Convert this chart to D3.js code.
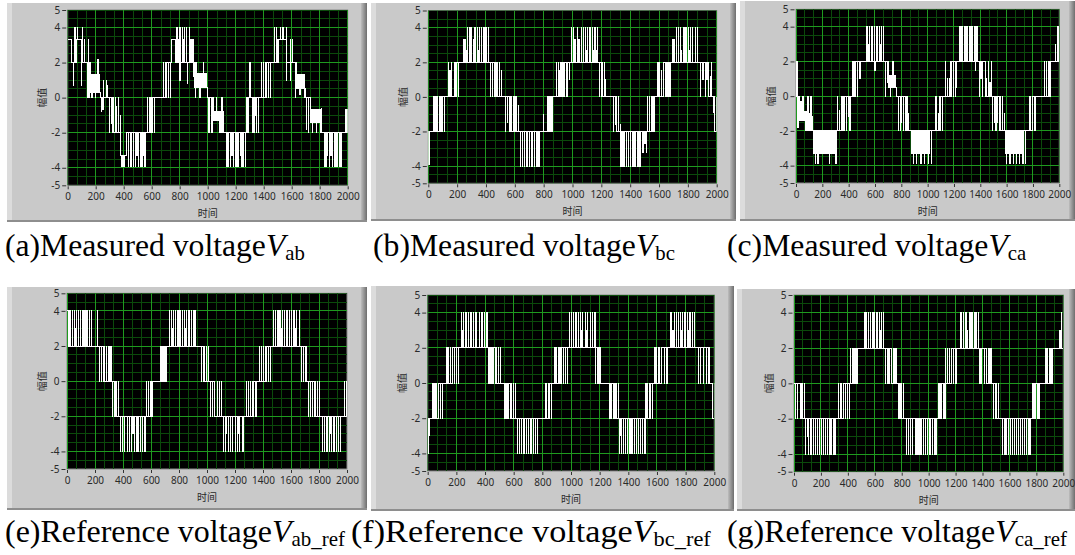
<!DOCTYPE html>
<html>
<head>
<meta charset="utf-8">
<script src="https://cdn.jsdelivr.net/npm/d3@7"></script>
<style>
  body { margin: 0; background: #fff; }
  svg { display: block; }
</style>
</head>
<body>
<svg id="fig" width="1075" height="555"></svg>
<script>
// ---- tick labels ----
const xTicks = [0, 200, 400, 600, 800, 1000, 1200, 1400, 1600, 1800, 2000];
const yTicks = [-5, -4, -2, 0, 2, 4, 5];
const yMajor = [-4, -2, 0, 2, 4];

// ---- waveforms: base staircase [start, level], pulses [time, level, width?] ----
const abMeasBase = [[0,2],[165,0.3],[231,0],[326,-2],[593,0],[707,2],[920,0.6],[995,0],[1040,-0.8],[1095,-2],[1290,0],[1410,2],[1636,0.5],[1700,0],[1731,-0.7],[1805,-2]];
const abMeasPulse = [
  [0,3.3,28],[40,0.7,3],[52,4],[64,3.3,40],[69,4,3],[95,0.7,3],[105,4,3],[120,3.3],[148,3.3],
  [140,0],[152,0],
  [168,1.3,5],[172,0,3],[176,1.3,5],[183,1.3,5],[190,1.3,6],[195,0,3],[198,1.3,5],[206,1.3,5],[214,2.2,3],[220,1.3,5],[226,1.3,4],
  [238,-0.8,3],[250,-0.7,3],[255,1,3],[274,1,3],[283,0.7,3],[295,-2],[310,-1.5],[318,-2],
  [338,0],[350,-0.5],[362,0,3],[374,-1,3],
  [379,-3.3,38],[385,-3.9,3],[400,-3.9,3],[433,-3.9],[445,-3.9],[457,-3.9],[469,-3.9],[481,-3.9],[493,-3.3],[505,-3.9],[517,-3.9],[529,-3.9],[541,-3.3],[552,-3.9],
  [571,0],[583,0],[597,-2],[605,-2],[617,-2,3],
  [683,2],[695,2],[719,0],[731,0],
  [743,3.3,24],[779,4],[790,3.3],[795,4],[800,1,3],[807,4],[819,4],[826,3.3],[833,4],[850,4],[855,0.8,3],[867,4],[880,3.3],[893,3.3],
  [898,1.2,3],[905,0.6,3],[912,0,3],
  [924,1.4,4],[931,1.4,4],[938,1.4,4],[944,0,3],[950,1.4,4],[957,1.4,4],[964,1.4,4],[970,2,3],[976,1.4,4],[983,1.4,4],[989,1.4,3],
  [1005,-2,3],[1012,-2],[1024,-1.5],[1030,-2,3],
  [1044,-1.3,4],[1050,-1.3,4],[1056,-1.3,4],[1062,0,3],[1068,-1.3,4],[1074,-1.3,4],[1080,-1.3,4],[1086,-2,3],
  [1100,0,3],[1112,-0.8,3],
  [1136,-3.9],[1148,-3.9],[1160,-3.9],[1172,-3.3],[1184,-3.9],[1196,-3.9],[1208,-3.9],[1220,-3.9],[1232,-3.3],[1244,-3.9],[1256,-3.9],[1267,-3.9],
  [1274,0],[1283,0],
  [1302,2],[1319,-2],[1330,-2],[1340,-1],[1350,-2],[1362,-2],
  [1381,2],[1398,2],[1421,0],[1433,0],[1445,0],
  [1474,4],[1488,4],[1498,3.3],[1505,3.3,59],[1517,4],[1536,4],[1560,1],[1564,4],[1588,3.3],[1592,1],[1607,3.3],
  [1624,0],
  [1638,1.3,4],[1645,1.3,4],[1652,1.3,4],[1658,0.2,3],[1664,1.3,4],[1670,1.3,4],[1677,1.3,4],[1684,1.3,4],[1690,0,3],
  [1707,-1.8],[1719,-2],
  [1734,-1.4,4],[1741,-1.4,4],[1748,-2,3],[1755,-1.4,4],[1762,-1.4,4],[1769,-1.4,4],[1776,-2,3],[1783,-1.4,4],[1790,-1.4,4],[1797,-1.4,4],
  [1812,-0.6],
  [1831,-3.9],[1843,-3.9],[1855,-3.3],[1867,-3.9],[1879,-3.3,6],[1891,-3.9],[1903,-3.9],[1915,-3.9],[1927,-3.9],[1939,-3.9],[1950,-3.9],[1957,-3.9],
  [1981,-0.7],[1993,-0.7]
];

const bcMeasBase = [[0,-2],[76,0],[180,2],[470,0],[580,-2],[840,0],[920,2],[1200,0],[1307,-2],[1545,0],[1630,2],[1940,0]];
const bcMeasPulse = [
  [3,-3.9],[9,-3],
  [39,0],[53,0],[65,0],[88,-2],[99,-2],[111,-2],
  [139,2],[150,1.5],[162,2],[192,0],[208,0],
  [247,3.3],[254,3.3,6],[266,2.7],[271,4],[289,4],[301,4],[312,3.3],[320,4],[328,4],[340,4],[348,2.7],[354,4],[370,4],[386,4],[400,4],[416,4],
  [432,0],[446,0],[462,0],[478,2],[492,2],[509,1.5],
  [536,-2],[550,-1.5],[566,-2],[594,0],[608,0],[624,-0.5],
  [640,-4],[652,-4],[664,-4],[678,-4],[689,-4],[701,-4],[713,-4],[724,-4],[736,-4],[748,-4],[760,-4],[770,-4],
  [800,-1],[828,0],[837,0],[849,-2],[860,-2],
  [890,2],[902,2],[913,1.5],[927,0],[941,0],[960,0],[978,1],
  [994,4],[1006,4],[1017,3.3,6],[1033,4],[1045,3.3,6],[1059,4],[1075,4],[1091,4],[1100,2.7],[1105,4],[1121,4],[1138,4],[1145,2.7],[1156,4],[1165,2.7],[1172,4],
  [1186,0],[1198,0],[1209,2],[1221,2],[1230,1],
  [1283,-2],[1295,-1.6],[1318,0],[1330,-1.6],
  [1336,-4],[1349,-4],[1361,-4],[1372,-4],[1386,-4],[1400,-4],[1414,-4],[1425,-4],[1437,-4],[1448,-4],[1460,-4],[1468,-4],
  [1487,-3.2,6],[1497,-2.7,8],[1510,-3.2],
  [1521,0],[1533,0],[1557,-2],[1568,-2],
  [1591,2],[1602,2],[1614,1.5],[1647,0],[1661,0],[1676,0],
  [1695,3.3,6],[1706,3.3],[1718,4],[1734,4],[1746,4],[1757,2.7],[1773,4],[1787,4],[1803,4],[1810,2.7],[1819,4],[1833,4],[1850,4],[1866,4],
  [1889,0],[1903,1],[1919,0],[1931,1],[1942,2],[1954,1.2],[1965,2],
  [1980,-0.9],[1988,-2,12]
];

const caMeasBase = [[0,0],[28,-0.9],[82,-2],[360,0],[445,2],[703,0.5],[766,0],[840,-2],[1090,0],[1180,2],[1440,0],[1545,-2],[1795,0],[1920,2]];
const caMeasPulse = [
  [5,2,5],[15,-1.8],
  [30,-1.4,4],[36,-0.3,3],[41,-1.4,4],[47,-1.4,4],[53,0,3],[58,-1.4,4],[64,-1.4,4],[70,-2,3],[76,-1.4,4],
  [90,0],[100,-1],[112,0],[120,-1.2],
  [132,-3.3,5],[139,-3.3,5],[146,-3.9],[153,-3.3,5],[160,-3.3,5],[167,-3.9],[174,-3.3,5],[181,-3.3,5],[188,-3.3,5],[195,-3.3,5],[202,-3.3,5],[209,-3.3,5],[216,-3.3,5],[223,-3.3,5],[230,-3.3,5],[237,-3.3,5],[244,-3.3,5],[251,-3.9],[258,-3.3,5],[265,-3.3,5],[272,-3.3,5],[279,-3.3,5],[286,-3.3,4],[302,-3.9],
  [316,0],[329,-0.8],[342,0],[354,0],[367,-2],[385,-2],[397,-1.2],[410,-2],
  [428,2],[440,2],[453,0],[468,0],[485,1],
  [532,4],[544,4],[550,3],[557,4],[570,4],[582,4],[595,4],[600,1.5],[608,4],[620,4],[633,4],[640,3],[651,4],[663,4],
  [681,0],[696,0.8],
  [706,1.2,4],[712,1.2,4],[718,0,3],[724,1.2,4],[730,1.2,4],[736,2,3],[742,1.2,4],[748,1.2,4],[754,1.2,4],[760,0,3],
  [777,-2],[790,-2],[803,-1.5],[815,-2],[828,-2],[848,0],[856,-1],
  [878,-3.3,5],[885,-3.3,5],[892,-3.9],[899,-3.3,5],[906,-3.3,5],[913,-3.9],[920,-3.3,5],[927,-3.3,5],[934,-3.3,5],[941,-3.3,5],[948,-3.9],[955,-3.3,5],[962,-3.3,5],[969,-3.3,5],[976,-3.9],[983,-3.3,5],[990,-3.3,5],[997,-3.3,5],[1004,-3.9],[1011,-3.3,5],[1030,-3.9],
  [1056,0],[1068,0],[1081,-1],[1099,-2],[1114,-2],
  [1137,2],[1149,1],[1165,1],[1177,2],[1195,0],[1208,0],[1220,0.5],
  [1241,4],[1253,4],[1266,4],[1278,4],[1285,3],[1291,4],[1304,4],[1316,4],[1329,4],[1342,4],[1354,4],[1360,1.5],[1367,4],[1380,4],
  [1392,0],[1405,1],[1418,0],[1435,2],[1448,1],[1461,2],[1473,0.8],[1486,2],
  [1491,-2],[1506,-1.5],[1519,-2],[1532,-1.5],[1549,0],[1567,0],[1582,-1],
  [1590,-3.3,5],[1597,-3.9],[1604,-3.3,5],[1611,-3.3,5],[1618,-3.3,5],[1625,-3.9],[1632,-3.3,5],[1639,-3.3,5],[1646,-3.3,5],[1653,-3.9],[1660,-3.3,5],[1667,-3.3,5],[1674,-3.9],[1681,-3.3,5],[1688,-3.3,5],[1695,-3.9],[1702,-3.3,5],[1709,-3.3,5],[1716,-3.3,5],[1723,-3.9],[1740,-3.9],
  [1770,0],[1782,0],[1808,-2],[1820,-2],
  [1886,2],[1904,2],[1929,0],
  [1970,3],[1987,4,5]
];

const abRefBase = [[0,2],[270,0],[345,-2],[595,0],[688,2],[985,0],[1055,-2],[1325,0],[1420,2],[1702,0],[1770,-2]];
const abRefPulse = [
  [0,4,8],[20,4],[36,4],[50,4],[62,3],[66,4],[80,4],[93,4],[108,4],[120,4],[134,4],[147,4],[162,4],[176,4],[218,4],
  [230,0],[247,0],[262,0],[283,2],[298,2],[314,2],
  [326,-2],[338,-2],[352,0],[366,0],
  [379,-4],[395,-4],[412,-4],[429,-4],[445,-4],[462,-4],[470,-3],[479,-4],[493,-4],[507,-4],[524,-4],[540,-4],[557,-4],
  [569,0],[582,0],[600,-2],[610,-2],
  [669,2],[678,2],[695,0],[707,0],
  [729,4],[743,4],[750,3],[760,4],[776,4],[791,4],[807,4],[822,4],[838,4],[845,3],[855,4],[871,4],[886,4],[902,4],[914,4],
  [962,0],[976,0],[993,2],[1008,2],
  [1026,-2],[1040,-2],[1072,0],[1090,0],[1105,0],
  [1117,-4],[1133,-4],[1140,-3],[1150,-4],[1167,-4],[1183,-4],[1200,-4],[1217,-4],[1225,-3],[1233,-4],[1250,-4],[1260,-4],
  [1279,0],[1295,0],[1312,0],[1330,-2],[1343,-2],[1355,-2],
  [1374,2],[1390,2],[1405,2],[1425,0],[1440,0],[1455,0],
  [1474,4],[1490,4],[1507,4],[1521,4],[1530,3],[1538,4],[1555,4],[1571,4],[1588,4],[1605,4],[1621,4],[1630,3],[1640,4],[1660,4],
  [1676,0],[1690,0],[1710,2],
  [1724,-2],[1740,-2],[1755,-2],[1775,0],[1790,0],[1802,0],
  [1824,-4],[1840,-4],[1857,-4],[1874,-4],[1880,-3],[1890,-4],[1900,-3],[1907,-4],[1924,-4],[1940,-4],[1955,-4],
  [1979,0],[1993,0]
];

const bcRefBase = [[0,-2],[75,0],[175,2],[470,0],[575,-2],[840,0],[920,2],[1195,0],[1295,-2],[1545,0],[1630,2],[1965,0]];
const bcRefPulse = [
  [0,-4,6],[8,-3],
  [35,0],[50,0],[62,0],[86,-2],[100,-2],
  [133,2],[146,2],[160,2],[184,0],[200,0],[215,0],
  [237,4],[245,3,8],[249,4],[267,4],[284,4],[302,4],[319,4],[337,4],[358,4],[377,4],[393,4],[412,4],
  [426,0],[440,0],[455,0],[481,2],[493,2],[505,2],
  [533,-2],[546,-2],[560,-2],[586,0],[600,0],[614,0],
  [626,-4],[640,-4],[656,-4],[672,-4],[686,-4],[702,-4],[719,-4],[735,-4],[751,-4],[765,-4],
  [819,0],[830,0],[850,-2],[863,-2],
  [888,2],[900,2],[912,2],[930,0],[945,0],[960,0],[974,0],
  [988,4],[1000,4],[1016,4],[1033,4],[1051,4],[1067,4],[1070,3],[1081,4],[1098,4],[1110,3,6],[1114,4],[1133,4],[1149,4],[1150,3],[1167,4],
  [1172,0],[1184,0],[1200,2],[1207,2],
  [1272,-2],[1284,-2],[1307,0],[1319,0],[1330,0],
  [1337,-4],[1345,-3],[1351,-4],[1365,-4],[1380,-4],[1395,-4],[1410,-4],[1425,-4],[1440,-4],[1455,-4],[1470,-4],[1485,-4],[1500,-4],[1516,-4],
  [1523,0],[1533,0],[1556,-2],[1567,-2],
  [1586,2],[1598,2],[1614,2],[1633,0],[1649,0],[1663,0],[1672,0],
  [1691,4],[1702,4],[1710,3],[1719,4],[1733,4],[1749,4],[1765,4],[1770,3],[1779,4],[1795,4],[1812,4],[1820,3],[1830,4],[1847,4],[1860,4],
  [1888,0],[1905,0],[1923,0],[1947,0],[1958,0],
  [1985,-2,15]
];

const caRefBase = [[0,0],[45,-2],[370,0],[440,2],[725,0],[800,-2],[1097,0],[1166,2],[1431,0],[1505,-2],[1795,0],[1896,2]];
const caRefPulse = [
  [12,-2],[27,-2],[52,0],[64,0],[77,0],
  [87,-4],[100,-3],[106,-4],[119,-4],[131,-4],[146,-4],[161,-4],[176,-4],[191,-4],[205,-4],[220,-4],[235,-4],[250,-4],[267,-4],[280,-4],[297,-4],[309,-4],
  [329,0],[342,0],[354,0],[384,-2],[399,-2],[411,-2],
  [421,2],[433,2],[448,0],[460,0],[473,0],
  [527,4],[534,3],[540,4],[552,4],[567,4],[582,4],[594,4],[609,4],[621,4],[636,4],[645,3],[651,4],[663,4],
  [676,0],[691,0],[705,0],[738,2],[750,2],[762,2],
  [775,-2],[787,-2],[812,0],
  [837,-4],[849,-4],[866,-4],[881,-4],[899,-4],[913,-4],[928,-4],[943,-4],[960,-4],[978,-4],[993,-4],[1010,-4],[1027,-4],[1042,-4],[1054,-4],
  [1072,0],[1084,0],[1109,-2],[1121,-2],
  [1126,2],[1139,2],[1153,2],[1183,0],[1196,0],[1208,0],
  [1233,4],[1245,4],[1257,4],[1270,4],[1282,4],[1290,3],[1300,4],[1314,4],[1327,4],[1339,4],[1345,3],[1351,4],[1369,4],
  [1381,0],[1394,0],[1414,0],[1443,2],[1455,2],[1468,2],
  [1480,-2],[1493,-2],[1517,0],
  [1547,-4],[1562,-4],[1574,-4],[1592,-4],[1606,-4],[1621,-4],[1636,-4],[1651,-4],[1666,-4],[1681,-4],[1696,-4],[1710,-4],[1728,-4],[1740,-4],[1752,-4],
  [1770,0],[1782,0],[1807,-2],[1819,-2],
  [1871,2],[1884,2],[1908,0],[1921,0],
  [1975,3],[1983,4]
];

// ---- captions ----
const capText = ["(a)Measured voltage", "(b)Measured voltage", "(c)Measured voltage",
                 "(e)Reference voltage", "(f)Reference voltage", "(g)Reference voltage"];
const capSub = ["ab", "bc", "ca", "ab_ref", "bc_ref", "ca_ref"];

// ---- layout ----
const panels = [
  { frame: [7, 3, 367, 222],     plot: [67.7, 10, 347.7, 185.3],   base: abMeasBase, pulses: abMeasPulse, cap: [5, 256, 300] },
  { frame: [371, 3, 736, 221],   plot: [428.3, 10.5, 716.7, 183.3], base: bcMeasBase, pulses: bcMeasPulse, cap: [373, 256, 302] },
  { frame: [740, 1, 1075, 221],  plot: [796, 9.3, 1059.3, 183],    base: caMeasBase, pulses: caMeasPulse, cap: [727, 256, 300] },
  { frame: [7, 287, 367, 510],   plot: [67, 293.3, 347, 469],      base: abRefBase,  pulses: abRefPulse,  cap: [5, 542, 340] },
  { frame: [371, 286, 734, 511], plot: [427.7, 295, 714.3, 471],   base: bcRefBase,  pulses: bcRefPulse,  cap: [351, 542, 360] },
  { frame: [737, 289, 1075, 511], plot: [794, 295, 1063.3, 471.7], base: caRefBase,  pulses: caRefPulse,  cap: [727, 542, 340] }
];

const PULSE_W = 2;

const svg = d3.select("#fig");
svg.append("rect").attr("width", 1075).attr("height", 555).attr("fill", "#fff");

const defs = svg.append("defs");
const shade = defs.append("linearGradient").attr("id", "shade");
shade.append("stop").attr("offset", "0%").attr("stop-color", "#bdbdbd");
shade.append("stop").attr("offset", "100%").attr("stop-color", "#6e6e6e");

// step waveform from base staircase plus pulses
function buildSeries(base, pulses) {
  const ps = pulses.map(([t, v, w = PULSE_W]) => ({ t0: t, t1: t + w, v }));
  const times = new Set([0, 2000]);
  base.forEach((d) => times.add(d[0]));
  ps.forEach((p) => { times.add(p.t0); times.add(Math.min(p.t1, 2000)); });
  const ts = Array.from(times).filter((t) => t <= 2000).sort((a, b) => a - b);
  const baseAt = (t) => {
    let v = base[0][1];
    base.forEach(([bt, bv]) => { if (bt <= t) v = bv; });
    return v;
  };
  return ts.map((t) => {
    let v = baseAt(t), best = -Infinity;
    ps.forEach((p) => {
      if (p.t0 <= t && t < p.t1 && p.t0 > best) { best = p.t0; v = p.v; }
    });
    return [t, v];
  });
}

panels.forEach((p, i) => {
  const [fx0, fy0, fx1, fy1] = p.frame;
  const [px0, py0, px1, py1] = p.plot;
  const g = svg.append("g");

  // LabVIEW-style grey frame
  g.append("rect").attr("x", fx0).attr("y", fy0).attr("width", fx1 - fx0).attr("height", fy1 - fy0).attr("fill", "#c9c9c9");
  g.append("rect").attr("x", fx0).attr("y", fy0).attr("width", 5).attr("height", fy1 - fy0).attr("fill", "#dcdcdc");
  g.append("rect").attr("x", fx1 - 6).attr("y", fy0).attr("width", 6).attr("height", fy1 - fy0).attr("fill", "url(#shade)");
  g.append("rect").attr("x", fx0).attr("y", fy1 - 2).attr("width", fx1 - fx0).attr("height", 2).attr("fill", "#8e8e8e");

  const x = d3.scaleLinear().domain([0, 2000]).range([px0, px1]);
  const y = d3.scaleLinear().domain([-5, 5]).range([py1, py0]);

  g.append("rect").attr("x", px0).attr("y", py0).attr("width", px1 - px0).attr("height", py1 - py0)
    .attr("fill", "#000").attr("stroke", "#8a8a8a").attr("stroke-width", 1);

  const clipId = "clip" + i;
  defs.append("clipPath").attr("id", clipId).append("rect")
    .attr("x", px0).attr("y", py0).attr("width", px1 - px0).attr("height", py1 - py0);

  const grid = g.append("g").attr("clip-path", `url(#${clipId})`).attr("shape-rendering", "crispEdges");
  const xMinor = d3.range(0, 2001, 200 / 3);
  const yMinor = d3.range(-5, 5.01, 0.5);
  grid.selectAll(".xm").data(xMinor).join("line")
    .attr("x1", (d) => x(d)).attr("x2", (d) => x(d)).attr("y1", py0).attr("y2", py1)
    .attr("stroke", "#0b4a0b");
  grid.selectAll(".ym").data(yMinor).join("line")
    .attr("y1", (d) => y(d)).attr("y2", (d) => y(d)).attr("x1", px0).attr("x2", px1)
    .attr("stroke", "#0b4a0b");
  grid.selectAll(".xM").data(xTicks).join("line")
    .attr("x1", (d) => x(d)).attr("x2", (d) => x(d)).attr("y1", py0).attr("y2", py1)
    .attr("stroke", "#1f9a1f");
  grid.selectAll(".yM").data(yMajor).join("line")
    .attr("y1", (d) => y(d)).attr("y2", (d) => y(d)).attr("x1", px0).attr("x2", px1)
    .attr("stroke", "#1f9a1f");

  const series = buildSeries(p.base, p.pulses);
  const line = d3.line().x((d) => x(d[0])).y((d) => y(d[1])).curve(d3.curveStepAfter);
  g.append("path").datum(series).attr("d", line)
    .attr("clip-path", `url(#${clipId})`)
    .attr("fill", "none").attr("stroke", "#fff").attr("stroke-width", 1)
    .attr("shape-rendering", "crispEdges");

  // axes
  const gy = g.append("g").attr("transform", `translate(${px0 - 1.5},0)`)
    .call(d3.axisLeft(y).tickValues(yTicks).tickSize(4).tickPadding(2).tickFormat(d3.format("d")));
  const gx = g.append("g").attr("transform", `translate(0,${py1 + 1})`)
    .call(d3.axisBottom(x).tickValues(xTicks).tickSize(3).tickPadding(4).tickFormat(d3.format("d")));
  [gy, gx].forEach((a) => {
    a.select(".domain").remove();
    a.selectAll("line").attr("stroke", "#333");
    a.selectAll("text").attr("fill", "#2a2a2a").style("font-family", "'Noto Sans', sans-serif").style("font-size", "10px");
  });
  gy.selectAll("text").text((d) => (d < 0 ? "-" + Math.abs(d) : d));

  g.append("text").attr("x", (px0 + px1) / 2).attr("y", py1 + 32)
    .attr("text-anchor", "middle").attr("fill", "#2a2a2a")
    .style("font-family", "'Noto Sans CJK SC', sans-serif").style("font-size", "10px")
    .text("时间");
  g.append("text").attr("transform", `translate(${px0 - 26},${(py0 + py1) / 2}) rotate(-90)`)
    .attr("text-anchor", "middle").attr("dominant-baseline", "central").attr("fill", "#2a2a2a")
    .style("font-family", "'Noto Sans CJK SC', sans-serif").style("font-size", "10px")
    .text("幅值");

  // caption, fitted to the width it takes in the figure
  const [cx, cy, cw] = p.cap;
  const cap = svg.append("text").attr("x", cx).attr("y", cy)
    .style("font-family", "'Liberation Serif', 'Times New Roman', serif").style("font-size", "32px").attr("fill", "#000");
  cap.append("tspan").text(capText[i]);
  cap.append("tspan").style("font-style", "italic").text("V");
  cap.append("tspan").style("font-size", "21px").attr("dy", 4).text(capSub[i]);
  const bw = cap.node().getBBox().width;
  cap.attr("transform", `translate(${cx},0) scale(${cw / bw},1) translate(${-cx},0)`);
});
</script>
</body>
</html>
